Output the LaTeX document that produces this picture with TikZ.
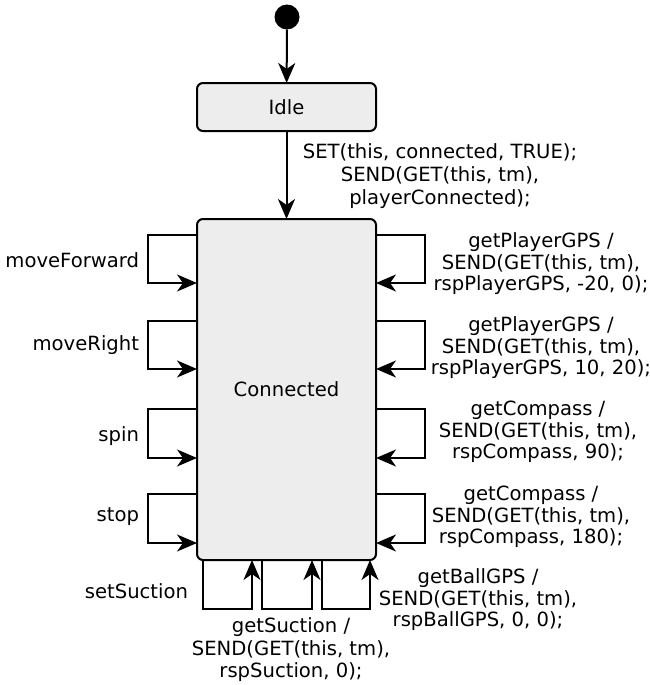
\documentclass[tikz,border=0pt]{standalone}
\usepackage{fontspec}
\setmainfont{DejaVu Sans}
\usetikzlibrary{arrows.meta}
\begin{document}
\begin{tikzpicture}[x=1pt,y=-1pt,
  line width=2pt,
  state/.style={draw, fill=black!7, rounded corners=6pt, outer sep=0pt, inner sep=0pt},
  arr/.style={-{Stealth[length=20pt,width=17pt,inset=6pt]}},
  lbl/.style={align=center, inner sep=0pt, font=\fontsize{19.6}{21.5}\selectfont},
  side/.style={inner sep=0pt, font=\fontsize{19.6}{21.5}\selectfont}]
\useasboundingbox (0,0) rectangle (650,685);

% states
\node[circle, fill=black, minimum size=25pt, inner sep=0pt, outer sep=0pt] (init) at (287,17) {};
\node[state, minimum width=179pt, minimum height=48pt, font=\fontsize{19.6}{21.5}\selectfont] (idle) at (286.5,107) {Idle};
\node[state, minimum width=179pt, minimum height=341pt, font=\fontsize{19.6}{21.5}\selectfont] (conn) at (286.5,389.5) {Connected};

% main transitions
\draw[arr] (init) -- (idle);
\draw[arr] (idle) -- (conn);
\node[lbl, font=\fontsize{19.6}{23}\selectfont] (entry) at (440,176) {SET(this, connected, TRUE);\\SEND(GET(this, tm),\\playerConnected);};

% self loops on the left side
\foreach \a/\b in {16/64, 102/150, 190/239, 275/324}{
  \draw[arr] ([yshift=-\a pt]conn.north west) -- ++(-49,0) |- ([yshift=-\b pt]conn.north west);
}
\node[side, anchor=east] (mf) at (140,260) {moveForward};
\node[side, anchor=east] (mr) at (140,345) {moveRight};
\node[side, anchor=east] (sp) at (140,436) {spin};
\node[side, anchor=east] (st) at (140,517) {stop};

% self loops on the right side
\foreach \a/\b in {16/64, 102/150, 190/239, 275/324}{
  \draw[arr] ([yshift=-\a pt]conn.north east) -- ++(49,0) |- ([yshift=-\b pt]conn.north east);
}
\node[lbl] (gp1) at (541,264) {getPlayerGPS /\\SEND(GET(this, tm),\\rspPlayerGPS, -20, 0);};
\node[lbl] (gp2) at (541,348) {getPlayerGPS /\\SEND(GET(this, tm),\\rspPlayerGPS, 10, 20);};
\node[lbl] (gc1) at (538,432) {getCompass /\\SEND(GET(this, tm),\\rspCompass, 90);};
\node[lbl] (gc2) at (531,517) {getCompass /\\SEND(GET(this, tm),\\rspCompass, 180);};

% self loops along the bottom
\foreach \a/\b in {6/55, 65/115, 125/173}{
  \draw[arr] ([xshift=\a pt]conn.south west) -- ++(0,49) -| ([xshift=\b pt]conn.south west);
}
\node[side, anchor=east] (ss) at (189,591) {setSuction};
\node[lbl, font=\fontsize{19.6}{22.5}\selectfont] (gs) at (291,650) {getSuction /\\SEND(GET(this, tm),\\rspSuction, 0);};
\node[lbl] (gb) at (478,600) {getBallGPS /\\SEND(GET(this, tm),\\rspBallGPS, 0, 0);};
\end{tikzpicture}
\end{document}
